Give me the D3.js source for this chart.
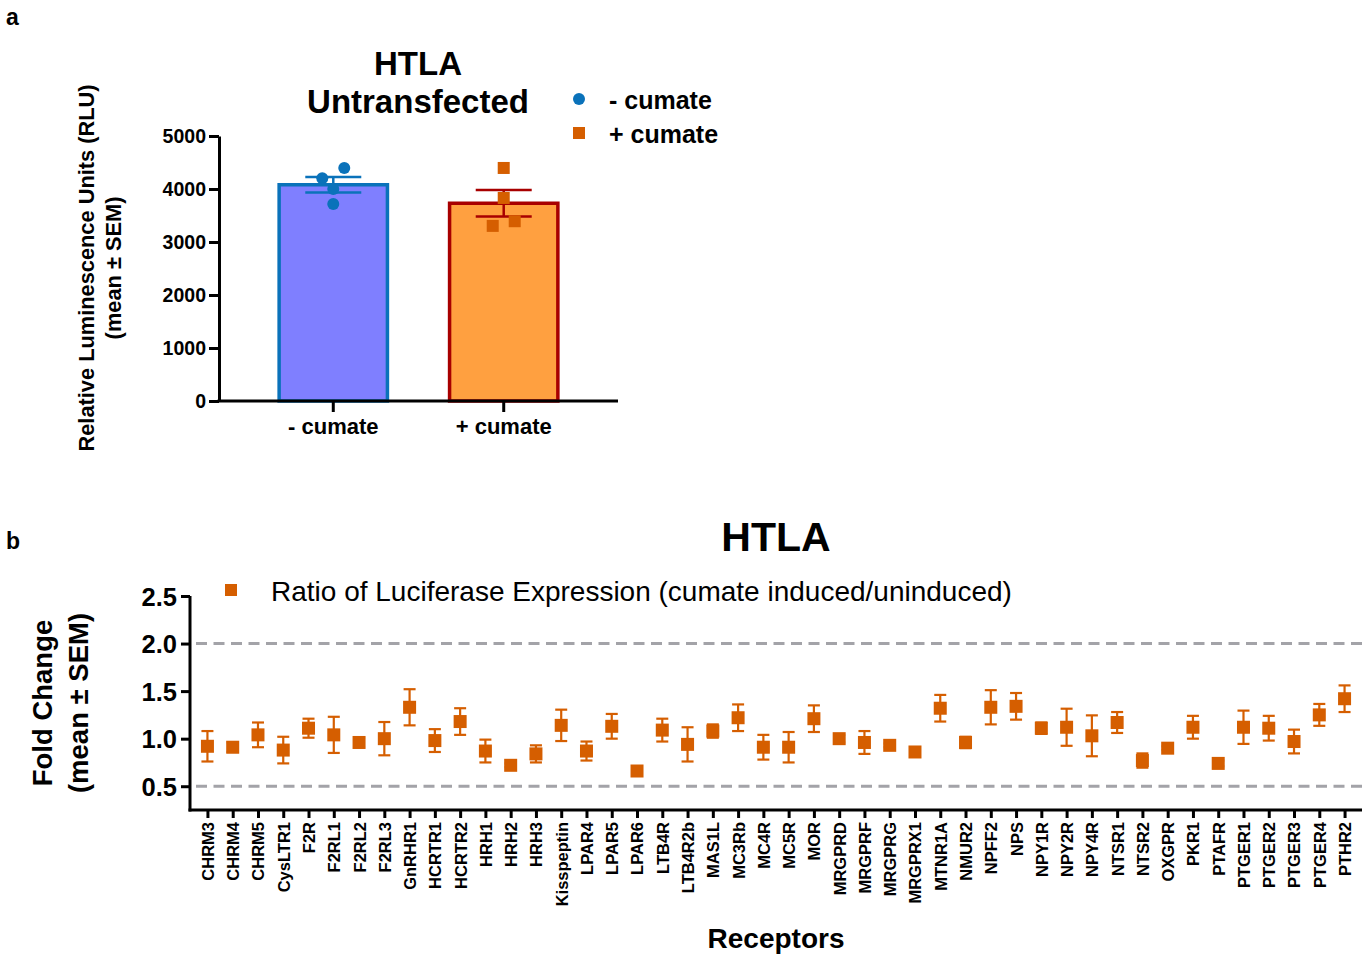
<!DOCTYPE html>
<html>
<head>
<meta charset="utf-8">
<script src="https://cdnjs.cloudflare.com/ajax/libs/d3/7.8.5/d3.min.js"></script>
<style>
  body { margin: 0; background: #fff; }
  svg { display: block; font-family: "Liberation Sans", Arial, sans-serif; }
  .bold { font-weight: bold; }
</style>
</head>
<body>
<svg id="chart" width="1369" height="955"></svg>
<script>
// panel a: untransfected HTLA, replicate luminescence readings
const groupsA = ['- cumate', '+ cumate'];
const minusCumate = [4203, 4397, 4002, 3719];
const plusCumate = [4397, 3831, 3304, 3392];
const ticksA = [0, 1000, 2000, 3000, 4000, 5000];

// panel b: fold change per receptor
const receptors = ['CHRM3', 'CHRM4', 'CHRM5', 'CysLTR1', 'F2R', 'F2RL1', 'F2RL2', 'F2RL3',
  'GnRHR1', 'HCRTR1', 'HCRTR2', 'HRH1', 'HRH2', 'HRH3', 'Kisspeptin', 'LPAR4', 'LPAR5',
  'LPAR6', 'LTB4R', 'LTB4R2b', 'MAS1L', 'MC3Rb', 'MC4R', 'MC5R', 'MOR', 'MRGPRD', 'MRGPRF',
  'MRGPRG', 'MRGPRX1', 'MTNR1A', 'NMUR2', 'NPFF2', 'NPS', 'NPY1R', 'NPY2R', 'NPY4R', 'NTSR1',
  'NTSR2', 'OXGPR', 'PKR1', 'PTAFR', 'PTGER1', 'PTGER2', 'PTGER3', 'PTGER4', 'PTHR2'];
const foldChange = [0.92, 0.91, 1.04, 0.88, 1.11, 1.04, 0.96, 1.00, 1.33, 0.98, 1.18, 0.87,
  0.72, 0.84, 1.14, 0.87, 1.13, 0.66, 1.09, 0.94, 1.08, 1.22, 0.91, 0.91, 1.21, 1.00, 0.96,
  0.93, 0.86, 1.32, 0.96, 1.33, 1.34, 1.11, 1.12, 1.03, 1.17, 0.77, 0.90, 1.12, 0.74, 1.12,
  1.11, 0.97, 1.25, 1.42];
const foldSEM = [0.16, 0.05, 0.13, 0.14, 0.10, 0.19, 0.045, 0.175, 0.19, 0.12, 0.14, 0.12,
  0.02, 0.09, 0.165, 0.10, 0.13, 0.02, 0.12, 0.18, 0.07, 0.14, 0.13, 0.16, 0.14, 0.04, 0.12,
  0.02, 0.02, 0.14, 0.06, 0.18, 0.14, 0.06, 0.195, 0.215, 0.11, 0.075, 0.02, 0.12, 0.03,
  0.175, 0.13, 0.125, 0.115, 0.14];
const ticksB = [0.5, 1.0, 1.5, 2.0, 2.5];
const refLines = [0.5, 2.0];

const blue = '#0a72ba';
const orange = '#d55e00';
const darkRed = '#a80000';

const svg = d3.select('#chart');

// panel letters
svg.append('text').attr('class', 'bold').attr('x', 6).attr('y', 25)
  .style('font-size', '23px').text('a');
svg.append('text').attr('class', 'bold').attr('x', 6).attr('y', 549)
  .style('font-size', '23px').text('b');

// ---------- panel a ----------
var yA = d3.scaleLinear().domain([0, 5000]).range([401, 136]);
var xA = d3.scaleBand().domain(groupsA).range([219, 618]).paddingInner(0.347).paddingOuter(0.344);

var sem = function (arr) {
  return d3.deviation(arr) / Math.sqrt(arr.length);
};
var barsA = [
  {name: groupsA[0], vals: minusCumate, fill: '#7f7fff', stroke: blue, err: blue, dot: blue, shape: 'circle'},
  {name: groupsA[1], vals: plusCumate, fill: '#ffa040', stroke: darkRed, err: darkRed, dot: orange, shape: 'square'}
];
barsA.forEach(d => {
  d.mean = d3.mean(d.vals);
  d.sem = sem(d.vals);
});

var gA = svg.append('g');

gA.selectAll('rect.bar')
  .data(barsA)
  .enter().append('rect')
    .attr('class', 'bar')
    .attr('x', d => xA(d.name) + 1.5)
    .attr('width', xA.bandwidth() - 3)
    .attr('y', d => yA(d.mean))
    .attr('height', d => yA(0) - yA(d.mean))
    .attr('fill', d => d.fill)
    .attr('stroke', d => d.stroke)
    .attr('stroke-width', 3.5);

// error bars (wide caps)
barsA.forEach(d => {
  var cx = xA(d.name) + xA.bandwidth() / 2;
  var g = gA.append('g').attr('stroke', d.err).attr('stroke-width', 2.5);
  g.append('line').attr('x1', cx).attr('x2', cx)
    .attr('y1', yA(d.mean + d.sem)).attr('y2', yA(d.mean - d.sem));
  [d.mean + d.sem, d.mean - d.sem].forEach(v => {
    g.append('line').attr('x1', cx - 28).attr('x2', cx + 28)
      .attr('y1', yA(v)).attr('y2', yA(v));
  });
});

// replicate points, spread sideways like the original scatter
barsA.forEach(d => {
  var cx = xA(d.name) + xA.bandwidth() / 2;
  var order = d3.range(d.vals.length).sort((a, b) => d.vals[b] - d.vals[a]);
  var offsets = {};
  order.forEach(idx => { offsets[idx] = 0; });
  if (d.shape === 'circle') {
    offsets[order[0]] = 11; offsets[order[1]] = -11;
  } else {
    offsets[order[2]] = 11; offsets[order[3]] = -11;
  }
  d.vals.forEach((v, i) => {
    var px = cx + offsets[i];
    if (d.shape === 'circle') {
      gA.append('circle').attr('cx', px).attr('cy', yA(v)).attr('r', 6).attr('fill', d.dot);
    } else {
      gA.append('rect').attr('x', px - 6).attr('y', yA(v) - 6)
        .attr('width', 12).attr('height', 12).attr('fill', d.dot);
    }
  });
});

// axes panel a
var axisYA = gA.append('g')
  .attr('transform', 'translate(219,0)')
  .call(d3.axisLeft(yA).tickValues(ticksA).tickFormat(d3.format('d'))
    .tickSize(10).tickSizeOuter(0).tickPadding(3));
var axisXA = gA.append('g')
  .attr('transform', 'translate(0,401)')
  .call(d3.axisBottom(xA).tickSize(11).tickSizeOuter(0).tickPadding(6));
[axisYA, axisXA].forEach(ax => {
  ax.select('.domain').attr('stroke', '#000').attr('stroke-width', 3);
  ax.selectAll('.tick line').attr('stroke', '#000').attr('stroke-width', 3);
  ax.selectAll('.tick text').attr('class', 'bold').attr('fill', '#000')
    .style('font-family', '"Liberation Sans", Arial, sans-serif');
});
axisYA.selectAll('.tick text').style('font-size', '19.5px');
axisXA.selectAll('.tick text').style('font-size', '22px');
// close the corner of the two axis lines
axisXA.select('.domain').attr('d', 'M' + (219 - 1.5) + ',0H618');

// title + legend panel a
gA.append('text').attr('class', 'bold').attr('x', 418).attr('y', 75)
  .attr('text-anchor', 'middle').style('font-size', '33px').text('HTLA');
gA.append('text').attr('class', 'bold').attr('x', 418).attr('y', 113)
  .attr('text-anchor', 'middle').style('font-size', '33px').text('Untransfected');

var legA = gA.append('g');
legA.append('circle').attr('cx', 579).attr('cy', 99).attr('r', 6).attr('fill', blue);
legA.append('rect').attr('x', 573).attr('y', 127).attr('width', 12).attr('height', 12).attr('fill', orange);
legA.append('text').attr('class', 'bold').attr('x', 609).attr('y', 109)
  .style('font-size', '25px').text('- cumate');
legA.append('text').attr('class', 'bold').attr('x', 609).attr('y', 143)
  .style('font-size', '25px').text('+ cumate');

var yLabA = gA.append('text').attr('class', 'bold')
  .attr('transform', 'translate(0,268) rotate(-90)')
  .attr('text-anchor', 'middle').style('font-size', '21.8px');
yLabA.append('tspan').attr('x', 0).attr('y', 94).text('Relative Luminescence Units (RLU)');
yLabA.append('tspan').attr('x', 0).attr('y', 121).text('(mean \u00b1 SEM)');

// ---------- panel b ----------
var yB = d3.scaleLinear().domain([0.25, 2.5]).range([810, 596]);
var xB = d3.scalePoint().domain(receptors).range([190, 1362]).padding(0.69);

var gB = svg.append('g');

gB.selectAll('line.ref')
  .data(refLines)
  .enter().append('line')
    .attr('class', 'ref')
    .attr('x1', 196).attr('x2', 1362)
    .attr('y1', d => yB(d)).attr('y2', d => yB(d))
    .attr('stroke', '#a3a3a8')
    .attr('stroke-width', 3)
    .attr('stroke-dasharray', '11,6.5');

var ptsB = receptors.map((r, i) => ({name: r, v: foldChange[i], e: foldSEM[i]}));

var errB = gB.selectAll('g.err')
  .data(ptsB)
  .enter().append('g')
    .attr('class', 'err')
    .attr('stroke', orange)
    .attr('stroke-width', 2.2);
errB.append('line')
  .attr('x1', d => xB(d.name)).attr('x2', d => xB(d.name))
  .attr('y1', d => yB(d.v + d.e)).attr('y2', d => yB(d.v - d.e));
errB.append('line')
  .attr('x1', d => xB(d.name) - 6).attr('x2', d => xB(d.name) + 6)
  .attr('y1', d => yB(d.v + d.e)).attr('y2', d => yB(d.v + d.e));
errB.append('line')
  .attr('x1', d => xB(d.name) - 6).attr('x2', d => xB(d.name) + 6)
  .attr('y1', d => yB(d.v - d.e)).attr('y2', d => yB(d.v - d.e));

gB.selectAll('rect.pt')
  .data(ptsB)
  .enter().append('rect')
    .attr('class', 'pt')
    .attr('x', d => xB(d.name) - 6.5)
    .attr('y', d => yB(d.v) - 6.5)
    .attr('width', 13).attr('height', 13)
    .attr('fill', orange);

var axisYB = gB.append('g')
  .attr('transform', 'translate(190,0)')
  .call(d3.axisLeft(yB).tickValues(ticksB).tickFormat(d3.format('.1f'))
    .tickSize(9).tickSizeOuter(0).tickPadding(4));
var axisXB = gB.append('g')
  .attr('transform', 'translate(0,810)')
  .call(d3.axisBottom(xB).tickSize(8).tickSizeOuter(0));
[axisYB, axisXB].forEach(ax => {
  ax.select('.domain').attr('stroke', '#000').attr('stroke-width', 3);
  ax.selectAll('.tick line').attr('stroke', '#000').attr('stroke-width', 3);
  ax.selectAll('.tick text').attr('class', 'bold').attr('fill', '#000')
    .style('font-family', '"Liberation Sans", Arial, sans-serif');
});
axisYB.select('.domain').attr('d', 'M0,596V811.5');
axisXB.select('.domain').attr('d', 'M' + (190 - 1.5) + ',0H1362');
axisYB.selectAll('.tick text').style('font-size', '25.5px').attr('dy', '0.36em');
axisXB.selectAll('.tick text')
  .style('font-size', '16.5px')
  .attr('text-anchor', 'end')
  .attr('transform', 'translate(0,12) rotate(-90)')
  .attr('x', 0).attr('y', 0).attr('dy', '0.36em');

gB.append('text').attr('class', 'bold').attr('x', 776).attr('y', 551)
  .attr('text-anchor', 'middle').style('font-size', '41px').text('HTLA');
gB.append('rect').attr('x', 225).attr('y', 584).attr('width', 12).attr('height', 12).attr('fill', orange);
gB.append('text').attr('x', 271).attr('y', 601)
  .style('font-size', '28px').text('Ratio of Luciferase Expression (cumate induced/uninduced)');

var yLabB = gB.append('text').attr('class', 'bold')
  .attr('transform', 'translate(0,703) rotate(-90)')
  .attr('text-anchor', 'middle').style('font-size', '27.5px');
yLabB.append('tspan').attr('x', 0).attr('y', 52).text('Fold Change');
yLabB.append('tspan').attr('x', 0).attr('y', 88).text('(mean \u00b1 SEM)');

gB.append('text').attr('class', 'bold').attr('x', 776).attr('y', 948)
  .attr('text-anchor', 'middle').style('font-size', '28px').text('Receptors');
</script>
</body>
</html>
